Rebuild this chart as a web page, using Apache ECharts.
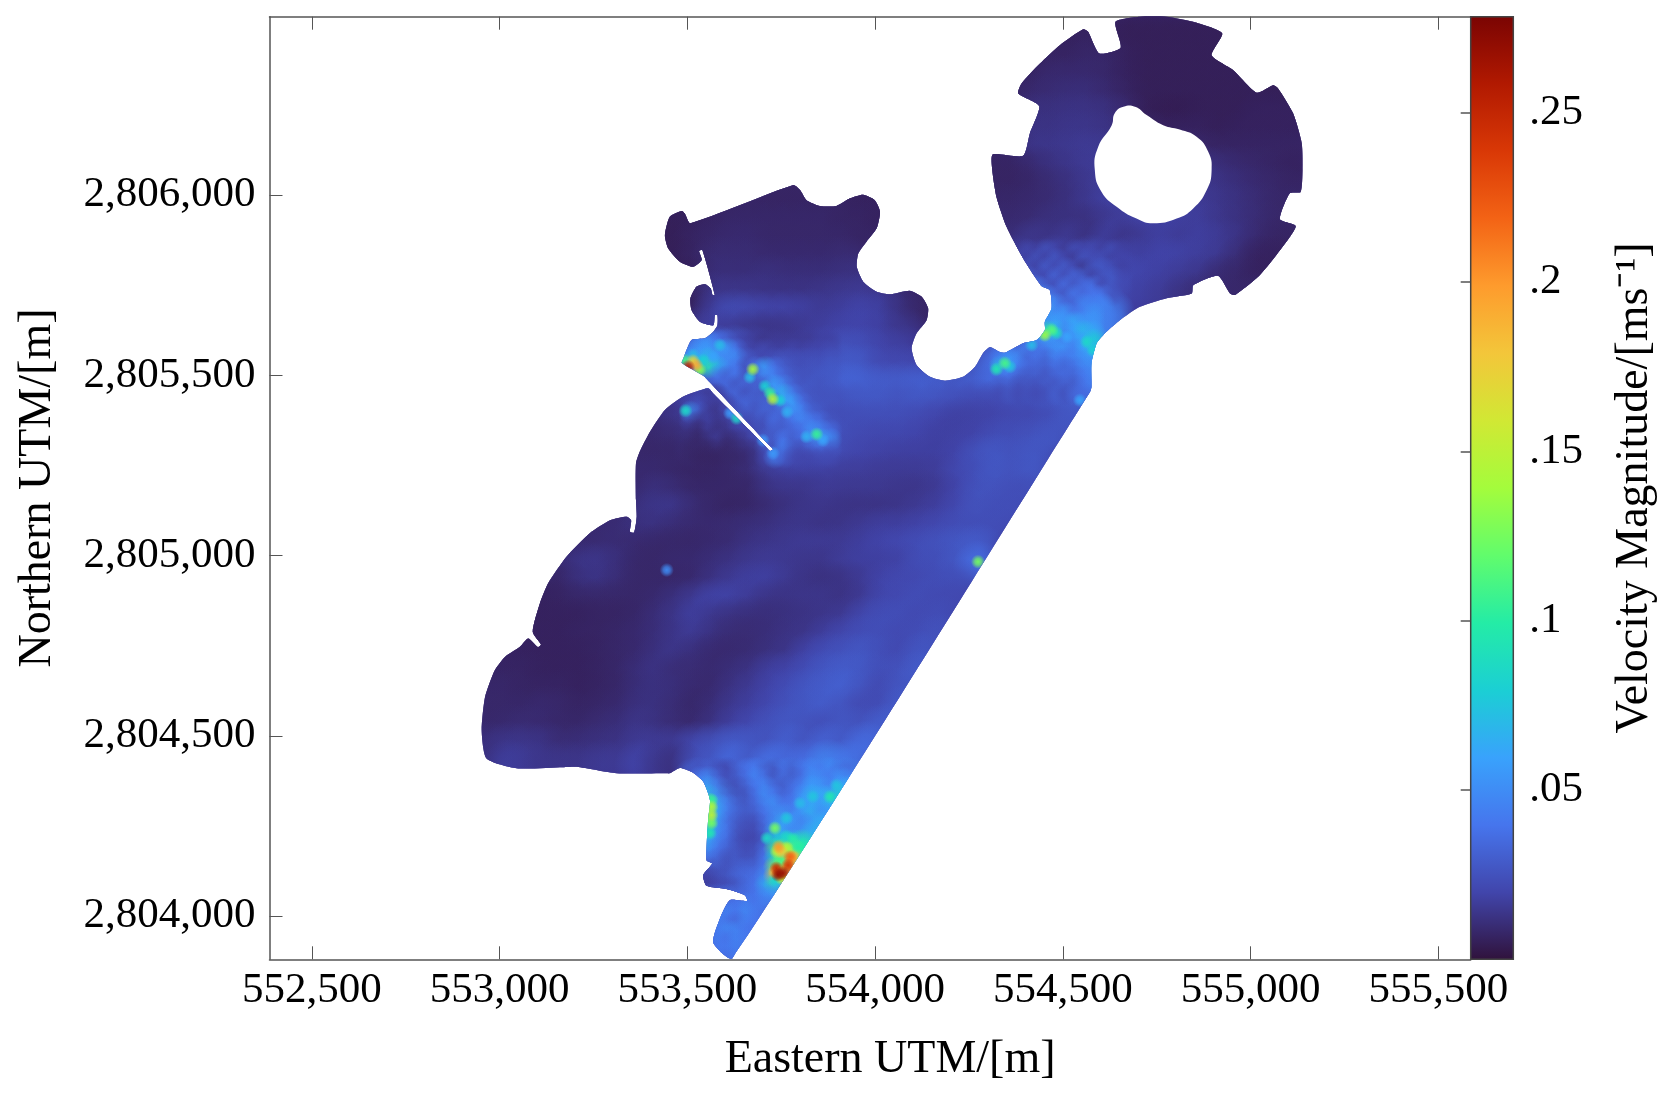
<!DOCTYPE html>
<html>
<head>
<meta charset="utf-8">
<style>
  html, body { margin: 0; background: #fff; }
  #chart { width: 1671px; height: 1096px; }
</style>
<script src="https://cdn.jsdelivr.net/npm/echarts@6/dist/echarts.min.js"></script>
</head>
<body>
<div id="chart"></div>
<script>
// axis ranges and tick labels (m, m/s)
const eastRange = [552387, 555586];
const northRange = [2803880, 2806495];
const speedRange = [0, 0.2784];
const eastTicks = [552500, 553000, 553500, 554000, 554500, 555000, 555500];
const northTicks = [2804000, 2804500, 2805000, 2805500, 2806000];
const speedTicks = [0.05, 0.1, 0.15, 0.2, 0.25];

const turboColors = ['#30123b', '#4145ab', '#4675ed', '#39a2fc', '#1bcfd4', '#24eca6', '#61fc6c', '#a4fc3c',
  '#d1e834', '#f3c63a', '#fe9b2d', '#f36315', '#d93806', '#b11901', '#7a0403'];

// boundary of the wet domain, clockwise from the north west corner of the upper basin
const outlineEast = [553508, 553782, 553800, 553817, 553853, 553897, 553933, 553968, 553999, 554013, 554004, 553977,
  553955, 553951, 553968, 554004, 554039, 554092, 554124, 554141, 554137, 554110, 554097, 554110, 554146, 554186,
  554234, 554266, 554288, 554306, 554332, 554346, 554394, 554430, 554452, 554452, 554470, 554465, 554443, 554394,
  554350, 554323, 554312, 554313, 554394, 554412, 554437, 554381, 554390, 554439, 554492, 554554, 554567, 554597,
  554654, 554640, 554705, 554776, 554847, 554924, 554896, 554953, 555016, 555060, 555073, 555113, 555136, 555138,
  555133, 555104, 555078, 555120, 555078, 555024, 554958, 554945, 554913, 554847, 554843, 554776, 554705, 554652,
  554616, 554590, 554576, 554576, 554572, 553620, 553569, 553587, 553613, 553659, 553653, 553604, 553551, 553542,
  553566, 553551, 553555, 553560, 553542, 553511, 553480, 553453, 553445, 553311, 553205, 553169, 553045, 552965,
  552952, 552961, 552987, 553014, 553054, 553076, 553102, 553110, 553088, 553107, 553129, 553178, 553240, 553294,
  553338, 553350, 553347, 553358, 553365, 553363, 553363, 553373, 553400, 553440, 553489, 553555, 553570, 553705, 553720, 553728,
  553713, 553558, 553543, 553485, 553489, 553511, 553547, 553569, 553580, 553580, 553573, 553569, 553533, 553511, 553508, 553524,
  553547, 553562, 553567, 553573, 553540, 553531, 553538, 553515, 553480, 553449, 553440, 553453, 553485, 553493];
const outlineNorth = [2805922, 2806028, 2806014, 2805986, 2805970, 2805970, 2805991, 2806001, 2805986, 2805954, 2805908, 2805871,
  2805838, 2805801, 2805760, 2805732, 2805725, 2805735, 2805718, 2805686, 2805653, 2805616, 2805575, 2805529, 2805496, 2805485,
  2805496, 2805524, 2805563, 2805579, 2805565, 2805563, 2805589, 2805598, 2805626, 2805649, 2805686, 2805737, 2805748, 2805825,
  2805912, 2805995, 2806069, 2806113, 2806109, 2806171, 2806247, 2806282, 2806310, 2806365, 2806416, 2806460, 2806453, 2806393,
  2806409, 2806481, 2806495, 2806495, 2806481, 2806449, 2806388, 2806347, 2806284, 2806305, 2806296, 2806227, 2806144, 2806069,
  2806009, 2806005, 2805933, 2805914, 2805847, 2805778, 2805723, 2805727, 2805776, 2805750, 2805727, 2805714, 2805690, 2805653,
  2805621, 2805589, 2805533, 2805468, 2805454, 2803883, 2803926, 2803994, 2804044, 2804042, 2804058, 2804075, 2804084, 2804114,
  2804146, 2804155, 2804266, 2804322, 2804373, 2804400, 2804411, 2804396, 2804396, 2804396, 2804414, 2804413, 2804410, 2804437,
  2804516, 2804608, 2804682, 2804719, 2804747, 2804770, 2804746, 2804753, 2804789, 2804867, 2804923, 2804997, 2805062, 2805098,
  2805108, 2805098, 2805066, 2805064, 2805108, 2805154, 2805256, 2805288, 2805343, 2805404, 2805441, 2805464, 2805448, 2805306, 2805290, 2805295,
  2805311, 2805482, 2805498, 2805534, 2805547, 2805598, 2805603, 2805621, 2805639, 2805667, 2805667, 2805639, 2805649, 2805681, 2805714, 2805746,
  2805753, 2805741, 2805723, 2805723, 2805847, 2805845, 2805820, 2805801, 2805815, 2805852, 2805889, 2805940, 2805956, 2805949];

// the island inside the ring
const holeEast = [554630, 554638, 554661, 554692, 554723, 554767, 554811, 554856, 554887, 554896, 554883, 554847, 554803,
  554740, 554696, 554643, 554603, 554585, 554594];
const holeNorth = [2806194, 2806227, 2806245, 2806245, 2806222, 2806194, 2806182, 2806162, 2806120, 2806069, 2806014, 2805963,
  2805935, 2805922, 2805935, 2805968, 2806009, 2806069, 2806134];

// speed on a 50 m grid, in mm/s, 0 = dry
const fieldEastOrigin = 552975;
const fieldNorthOrigin = 2806470;
const fieldStep = 50;
const fieldRowStarts = [26, 26, 26, 26, 26, 26, 26, 26, 26, 9, 9, 9, 9, 9, 9, 9, 9, 11, 11, 11, 12, 10, 9, 8, 8, 8, 8, 7, 5, 4, 4, 3,
  2, 2, 2, 1, 0, 0, 0, 0, 0, 0, 11, 12, 12, 12, 12, 11, 12, 12, 12, 11];
const fieldRows = [
  [5, 5, 5, 5, 5, 5, 5, 6, 5, 5, 5, 5, 5, 5, 5, 5, 5, 5],
  [5, 5, 5, 5, 6, 6, 7, 6, 5, 5, 5, 5, 5, 5, 5, 5, 5, 5],
  [6, 6, 6, 6, 7, 7, 8, 8, 6, 5, 5, 5, 5, 5, 5, 5, 5, 5],
  [6, 6, 6, 7, 9, 9, 9, 8, 6, 5, 5, 5, 5, 5, 5, 5, 5, 5],
  [6, 6, 7, 9, 10, 11, 11, 9, 7, 5, 5, 5, 5, 5, 5, 5, 5, 5],
  [6, 7, 9, 12, 12, 13, 13, 12, 9, 5, 4, 4, 5, 5, 5, 6, 6, 6],
  [6, 7, 10, 13, 13, 14, 14, 13, 11, 8, 6, 6, 6, 5, 6, 6, 6, 6],
  [7, 7, 9, 14, 14, 15, 16, 15, 14, 12, 10, 9, 8, 7, 7, 7, 7, 7],
  [7, 7, 7, 9, 12, 14, 16, 16, 14, 14, 14, 14, 13, 11, 9, 8, 7, 6],
  [0, 0, 0, 0, 0, 0, 7, 7, 7, 7, 7, 6, 6, 0, 0, 0, 0, 7, 7, 7, 8, 10, 12, 15, 17, 16, 16, 16, 15, 15, 13, 11, 9, 8, 7],
  [0, 5, 5, 6, 7, 7, 7, 7, 7, 7, 7, 6, 6, 0, 0, 0, 0, 8, 8, 8, 9, 10, 12, 15, 18, 18, 18, 18, 16, 16, 14, 12, 10, 8, 8],
  [5, 5, 6, 7, 8, 8, 8, 8, 8, 8, 7, 7, 6, 0, 0, 0, 0, 9, 9, 9, 10, 12, 12, 12, 15, 17, 20, 18, 18, 17, 14, 12, 10, 8, 8],
  [5, 5, 7, 8, 9, 9, 8, 8, 8, 8, 8, 7, 0, 0, 0, 0, 0, 10, 10, 11, 15, 13, 16, 12, 18, 13, 16, 18, 16, 18, 16, 13, 9, 7, 7],
  [5, 5, 7, 10, 10, 10, 9, 9, 9, 9, 10, 0, 0, 0, 0, 0, 0, 0, 12, 18, 14, 22, 17, 24, 16, 20, 18, 20, 19, 17, 15, 10, 6, 6, 6],
  [0, 5, 6, 11, 11, 11, 12, 11, 11, 11, 12, 12, 0, 0, 0, 0, 0, 0, 0, 14, 20, 30, 22, 28, 20, 22, 20, 18, 16, 14, 9, 8, 6, 6, 6],
  [0, 5, 7, 14, 14, 14, 13, 13, 13, 14, 15, 16, 14, 10, 6, 6, 0, 0, 0, 16, 30, 38, 26, 34, 30, 20, 18, 16, 12, 10, 9, 8, 8, 8, 8],
  [0, 5, 7, 18, 24, 22, 20, 20, 18, 16, 18, 20, 18, 12, 8, 7, 0, 0, 0, 0, 40, 50, 45, 52, 45],
  [16, 18, 16, 14, 13, 14, 16, 18, 20, 20, 18, 14, 0, 0, 0, 0, 0, 0, 40, 55, 60, 50, 45],
  [40, 40, 35, 22, 16, 14, 18, 22, 26, 24, 20, 18, 0, 0, 0, 0, 35, 30, 45, 70, 55, 70],
  [50, 42, 35, 22, 30, 22, 20, 22, 30, 28, 22, 22, 22, 0, 0, 28, 40, 50, 40, 45, 55, 60],
  [28, 26, 30, 45, 30, 24, 26, 34, 32, 30, 30, 32, 32, 30, 32, 36, 34, 34, 38, 42, 48],
  [16, 20, 18, 30, 30, 45, 40, 28, 24, 26, 28, 28, 26, 28, 26, 24, 22, 22, 24, 24, 28, 30, 30],
  [10, 14, 16, 16, 18, 30, 32, 40, 32, 24, 24, 24, 24, 24, 22, 20, 18, 19, 20, 22, 22, 24, 28],
  [8, 9, 10, 12, 12, 14, 18, 26, 28, 38, 28, 24, 22, 21, 21, 20, 18, 19, 20, 24, 24, 26, 28],
  [8, 8, 8, 10, 10, 10, 14, 28, 24, 26, 24, 22, 20, 19, 18, 18, 18, 20, 26, 28, 26, 28],
  [9, 9, 8, 7, 7, 8, 10, 16, 18, 18, 18, 17, 17, 16, 16, 16, 17, 22, 24, 28, 26, 28],
  [9, 12, 10, 8, 8, 8, 8, 13, 14, 14, 16, 15, 15, 15, 14, 14, 16, 20, 26, 26, 24, 24],
  [9, 12, 14, 14, 10, 8, 7, 8, 10, 12, 14, 14, 13, 13, 13, 14, 16, 18, 22, 26, 24, 24],
  [8, 9, 10, 12, 12, 10, 9, 9, 10, 11, 12, 14, 14, 13, 14, 16, 18, 18, 20, 22, 24, 24, 24],
  [8, 9, 10, 10, 9, 8, 8, 8, 9, 10, 13, 14, 15, 16, 16, 16, 18, 20, 22, 24, 26, 28, 30],
  [10, 14, 14, 11, 8, 8, 9, 9, 11, 13, 15, 16, 15, 14, 14, 17, 18, 18, 19, 24, 24, 28, 38],
  [7, 8, 12, 13, 10, 8, 8, 8, 9, 13, 16, 18, 18, 15, 13, 12, 13, 16, 20, 22, 22, 24, 24],
  [6, 6, 7, 8, 8, 8, 8, 9, 12, 16, 20, 19, 16, 13, 13, 14, 14, 13, 16, 21, 22, 24, 22, 22],
  [6, 6, 6, 6, 7, 7, 8, 11, 14, 18, 14, 12, 11, 11, 12, 13, 14, 16, 22, 24, 24, 22, 24],
  [6, 6, 6, 7, 7, 8, 9, 11, 14, 16, 12, 10, 10, 11, 13, 14, 18, 22, 24, 24, 22, 24, 26],
  [6, 6, 6, 6, 6, 7, 8, 9, 12, 14, 11, 9, 9, 10, 12, 14, 20, 24, 26, 28, 24, 22, 28],
  [6, 7, 7, 6, 6, 6, 7, 8, 11, 13, 10, 10, 9, 11, 13, 18, 20, 24, 28, 30, 28, 24, 26, 30],
  [8, 8, 7, 7, 7, 6, 7, 8, 11, 12, 11, 9, 9, 13, 16, 20, 24, 28, 30, 32, 26, 22, 28],
  [8, 8, 8, 9, 8, 7, 8, 9, 12, 12, 10, 8, 11, 15, 18, 22, 26, 28, 30, 26, 22, 24, 30],
  [8, 9, 10, 9, 8, 8, 10, 11, 14, 12, 10, 9, 13, 18, 22, 26, 28, 26, 24, 28, 26, 32],
  [12, 14, 14, 13, 10, 11, 12, 13, 16, 16, 16, 22, 26, 30, 28, 26, 32, 26, 34, 28, 38],
  [12, 18, 16, 14, 14, 14, 16, 16, 20, 14, 12, 24, 28, 36, 28, 40, 34, 38, 48, 42],
  [40, 28, 34, 42, 50, 52, 48, 62, 60],
  [95, 55, 45, 34, 35, 48, 60, 55],
  [85, 48, 32, 30, 30, 38, 55],
  [55, 42, 28, 24, 55, 70, 70],
  [35, 30, 28, 26, 60, 100],
  [18, 14, 22, 28, 32, 60],
  [14, 16, 22, 40],
  [30, 36, 34],
  [38, 40, 42],
  [35, 40, 38]
];

// finer 25 m readings where the flow is speckled, mm/s
const detailStep = 25;

const southRows = [
  [0, 24, 30, 24, 20, 30, 38, 42, 30, 26, 36, 30, 38, 46, 40, 46, 36, 34],
  [22, 42, 48, 32, 22, 28, 36, 46, 36, 24, 34, 28, 36, 50, 46, 40, 50, 44],
  [26, 50, 56, 40, 26, 22, 30, 40, 46, 34, 28, 36, 44, 58, 52, 44, 58, 64],
  [0, 60, 66, 46, 32, 24, 24, 36, 50, 42, 32, 38, 54, 66, 62, 64, 84],
  [0, 84, 120, 56, 42, 30, 26, 34, 46, 52, 40, 42, 60, 62, 56, 68, 74],
  [0, 0, 110, 60, 40, 32, 28, 30, 40, 48, 52, 46, 58, 66, 52, 56],
  [0, 0, 100, 54, 36, 28, 24, 24, 36, 50, 64, 56, 44, 54, 64],
  [0, 0, 80, 50, 38, 26, 22, 22, 34, 64, 58, 46, 50, 64],
  [0, 0, 64, 46, 36, 24, 20, 20, 28, 78, 84, 74, 95],
  [0, 0, 56, 40, 32, 26, 22, 24, 36, 110, 140, 130, 100],
  [0, 40, 42, 34, 26, 28, 24, 26, 40, 84, 110, 170],
  [0, 26, 28, 30, 26, 30, 32, 32, 42, 130, 160, 200],
  [16, 20, 20, 24, 28, 34, 36, 38, 50, 170, 220],
  [18, 18, 18, 22, 24, 28, 36, 40, 64, 90],
  [0, 26, 30, 32, 36, 34, 36, 40, 50, 54],
  [0, 0, 0, 36, 36, 40, 44, 40, 44],
  [0, 0, 34, 40, 46, 40, 48, 42],
  [0, 0, 40, 48, 38, 34, 44, 40],
  [0, 32, 38, 40, 48, 46, 40, 38],
  [0, 32, 34, 44, 38, 46, 42],
  [0, 0, 36, 40, 42, 44],
  [0, 0, 0, 0, 38, 42]
];
const southOrigin = [553507, 2804410];

const breakwaterRows = [
  [30, 45, 50, 40, 30, 22, 18, 16, 14, 16, 16, 16, 16, 16, 18, 18],
  [45, 55, 58, 50, 60, 40, 22, 18, 22, 18, 18, 20, 18, 20, 20, 22],
  [55, 60, 70, 55, 48, 50, 30, 24, 20, 24, 26, 24, 24, 24, 24, 26],
  [0, 0, 100, 70, 50, 40, 24, 40, 60, 40, 30, 26, 24, 26, 26, 28],
  [0, 0, 0, 40, 32, 42, 26, 30, 50, 44, 34, 28, 26, 26, 28, 28],
  [0, 0, 0, 0, 36, 26, 34, 30, 30, 60, 48, 32, 26, 28, 26, 28],
  [0, 0, 16, 18, 0, 34, 24, 30, 26, 55, 66, 44, 30, 26, 26, 26],
  [20, 24, 18, 16, 20, 0, 34, 28, 30, 30, 60, 60, 38, 28, 26, 26],
  [60, 30, 16, 14, 22, 26, 0, 26, 32, 30, 34, 56, 46, 32, 28, 24],
  [22, 14, 18, 14, 16, 26, 22, 0, 24, 36, 30, 40, 48, 42, 36, 26],
  [12, 10, 16, 12, 14, 18, 20, 24, 0, 30, 30, 34, 38, 52, 46, 36],
  [10, 8, 12, 16, 10, 12, 16, 22, 30, 0, 40, 30, 36, 50, 62, 50],
  [8, 8, 8, 10, 8, 10, 12, 14, 28, 0, 44, 28, 24, 32, 36, 30],
  [8, 7, 7, 7, 8, 8, 9, 12, 20, 45, 32, 22, 20, 20, 22, 22]
];
const breakwaterOrigin = [553507, 2805598];

const stemRows = [
  [0, 0, 16, 22, 18, 26, 20, 16, 24, 20, 22, 18, 24, 18],
  [0, 0, 22, 18, 26, 18, 28, 20, 16, 26, 22, 24, 18, 20],
  [0, 0, 0, 26, 18, 30, 20, 30, 22, 14, 26, 28, 24, 18],
  [0, 0, 0, 32, 24, 20, 34, 22, 34, 28, 18, 26, 28, 22],
  [0, 0, 0, 38, 42, 28, 22, 38, 26, 36, 38, 20, 28, 22],
  [0, 0, 0, 0, 54, 46, 34, 26, 42, 34, 40, 40, 26],
  [0, 0, 0, 0, 58, 54, 48, 34, 32, 46, 44, 46],
  [0, 0, 0, 0, 50, 64, 46, 54, 38, 44, 52],
  [0, 0, 0, 0, 62, 48, 60, 52, 62, 54, 54],
  [0, 0, 0, 0, 0, 100, 70, 46, 60, 70, 62],
  [0, 0, 0, 34, 46, 60, 50, 42, 54, 60, 80],
  [0, 40, 32, 44, 36, 40, 50, 52, 42, 60, 70],
  [44, 54, 48, 32, 38, 32, 44, 38, 44, 50, 55],
  [70, 60, 42, 34, 32, 30, 36, 32, 36, 46, 48],
  [36, 40, 32, 28, 30, 26, 32, 34, 32, 40, 46],
  [28, 30, 24, 26, 24, 28, 26, 30, 28, 38, 44],
  [22, 26, 22, 24, 22, 24, 30, 24, 34, 36]
];
const stemOrigin = [554332, 2805848];

// local peaks, mm/s
const peakEast = [553502, 553524, 553515, 553533, 553493, 553515, 553541, 553586, 553568, 553674, 553666, 553706, 553720, 553727,
  553746, 553765, 553844, 553817, 553861, 553495, 553631, 553613, 553701, 553728, 554452, 554470, 554483, 554563, 554580, 554510,
  554345, 554323, 554359, 554417, 554274, 554545, 553445, 553564, 553564, 553564, 553564, 553560, 553733, 553711, 553781, 553764,
  553742, 553764, 553751, 553794, 553737, 553773, 553746, 553768, 553781, 553737, 553754, 553741, 553733, 553751, 553733, 553737,
  553879, 553834, 553897, 553764, 553800];
const peakNorth = [2805524, 2805528, 2805540, 2805515, 2805542, 2805556, 2805542, 2805584, 2805551, 2805517, 2805495, 2805470,
  2805451, 2805434, 2805431, 2805398, 2805337, 2805330, 2805320, 2805402, 2805381, 2805395, 2805320, 2805284, 2805612, 2805626,
  2805617, 2805593, 2805570, 2805607, 2805534, 2805517, 2805524, 2805584, 2804983, 2805431, 2804960, 2804322, 2804303, 2804280,
  2804258, 2804230, 2804244, 2804216, 2804214, 2804220, 2804192, 2804189, 2804178, 2804192, 2804178, 2804164, 2804155, 2804141,
  2804164, 2804133, 2804119, 2804114, 2804123, 2804105, 2804100, 2804092, 2804331, 2804331, 2804363, 2804272, 2804313];
const peakSpeed = [250, 190, 170, 130, 110, 70, 80, 70, 60, 140, 70, 80, 105, 145, 80, 65, 105, 65, 60, 85, 85, 55, 55, 55, 135, 115,
  90, 85, 80, 60, 110, 95, 75, 70, 125, 60, 50, 105, 145, 150, 125, 95, 125, 85, 100, 85, 200, 145, 180, 100, 150, 220, 110, 240, 190,
  250, 265, 270, 190, 150, 85, 65, 95, 75, 75, 75, 70];

const fieldData = [];
fieldRows.forEach((row, j) => {
  row.forEach((speed, i) => {
    if (speed > 0) {
      fieldData.push([fieldEastOrigin + (fieldRowStarts[j] + i) * fieldStep, fieldNorthOrigin - j * fieldStep, speed]);
    }
  });
});

const detailData = [];
[[southRows, southOrigin], [breakwaterRows, breakwaterOrigin], [stemRows, stemOrigin]].forEach(([rows, origin]) => {
  rows.forEach((row, j) => {
    row.forEach((speed, i) => {
      if (speed > 0) {
        detailData.push([origin[0] + i * detailStep, origin[1] - j * detailStep, speed]);
      }
    });
  });
});

const peakData = peakEast.map((e, i) => [e, peakNorth[i], peakSpeed[i]]).sort((a, b) => a[2] - b[2]);

const font = 'Liberation Serif';
const axisGray = '#555';
const outlineSmooth = 0.2;

let clipPoints = null;
function outlinePixels(api) {
  if (!clipPoints) {
    clipPoints = outlineEast.map((e, i) => api.coord([e, outlineNorth[i]]));
  }
  return clipPoints;
}

// soft round blob, clipped to the domain so nothing bleeds on the land
const blobRenderer = (reach, coreAlpha, midAlpha) => (params, api) => {
  const c = api.coord([api.value(0), api.value(1)]);
  const r = api.size([reach, reach])[0];
  const color = api.visual('color');
  return {
    type: 'circle',
    shape: { cx: c[0], cy: c[1], r: r },
    style: {
      fill: {
        type: 'radial', x: 0.5, y: 0.5, r: 0.5,
        colorStops: [
          { offset: 0, color: echarts.color.modifyAlpha(color, coreAlpha) },
          { offset: 0.45, color: echarts.color.modifyAlpha(color, midAlpha) },
          { offset: 1, color: echarts.color.modifyAlpha(color, 0) }
        ]
      }
    },
    clipPath: { type: 'polygon', shape: { points: outlinePixels(api), smooth: outlineSmooth } }
  };
};

const chart = echarts.init(document.getElementById('chart'));
chart.setOption({
  animation: false,
  backgroundColor: '#fff',
  textStyle: { fontFamily: font },
  visualMap: {
    show: false,
    type: 'continuous',
    seriesIndex: [1, 2, 3],
    dimension: 2,
    min: 0,
    max: 278,
    inRange: { color: turboColors }
  },
  grid: [
    { left: 269.5, top: 16.7, width: 1201.2, height: 942.6, outerBoundsMode: 'none' },
    { left: 1470.7, top: 16.7, width: 42.6, height: 942.6, outerBoundsMode: 'none' }
  ],
  xAxis: [
    {
      type: 'value', gridIndex: 0, min: eastRange[0], max: eastRange[1],
      name: 'Eastern UTM/[m]', nameLocation: 'middle', nameGap: 78,
      nameTextStyle: { fontFamily: font, fontSize: 46, color: '#000', padding: [0, 0, 0, 40] },
      splitLine: { show: false },
      axisLine: { onZero: false, lineStyle: { color: axisGray, width: 1.5 } },
      axisTick: { inside: true, length: 13, customValues: eastTicks, lineStyle: { color: axisGray, width: 1 } },
      axisLabel: {
        customValues: eastTicks, margin: 10, fontFamily: font, fontSize: 43, color: '#000',
        formatter: v => v.toLocaleString('en-US')
      }
    },
    {
      type: 'value', gridIndex: 0, position: 'top', min: eastRange[0], max: eastRange[1],
      splitLine: { show: false },
      axisLine: { onZero: false, lineStyle: { color: axisGray, width: 1.5 } },
      axisTick: { inside: true, length: 13, customValues: eastTicks, lineStyle: { color: axisGray, width: 1 } },
      axisLabel: { show: false }
    },
    { type: 'value', gridIndex: 1, min: 0, max: 1, show: false }
  ],
  yAxis: [
    {
      type: 'value', gridIndex: 0, min: northRange[0], max: northRange[1],
      name: 'Northern UTM/[m]', nameLocation: 'middle', nameGap: 209, nameRotate: 90,
      nameTextStyle: { fontFamily: font, fontSize: 46, color: '#000' },
      splitLine: { show: false },
      axisLine: { onZero: false, lineStyle: { color: axisGray, width: 1.5 } },
      axisTick: { inside: true, length: 13, customValues: northTicks, lineStyle: { color: axisGray, width: 1 } },
      axisLabel: {
        customValues: northTicks, margin: 14, fontFamily: font, fontSize: 43, color: '#000',
        formatter: v => v.toLocaleString('en-US')
      }
    },
    {
      type: 'value', gridIndex: 1, position: 'right', min: speedRange[0], max: speedRange[1],
      name: 'Velocity Magnitude/[ms⁻¹]', nameLocation: 'middle', nameGap: 99, nameRotate: 90,
      nameTextStyle: { fontFamily: font, fontSize: 46, color: '#000' },
      splitLine: { show: false },
      axisLine: { show: false },
      axisTick: { inside: true, length: 10, customValues: speedTicks, lineStyle: { color: axisGray, width: 1.5 } },
      axisLabel: {
        customValues: speedTicks, margin: 16, fontFamily: font, fontSize: 43, color: '#000',
        formatter: v => String(v).replace(/^0/, '')
      }
    }
  ],
  series: [
    {
      // domain floor
      type: 'custom', xAxisIndex: 0, yAxisIndex: 0, data: [[0]], silent: true, z: 2,
      renderItem: (params, api) => ({
        type: 'polygon',
        shape: { points: outlinePixels(api), smooth: outlineSmooth },
        style: { fill: '#392a86' }
      })
    },
    {
      type: 'custom', xAxisIndex: 0, yAxisIndex: 0, data: fieldData, silent: true, z: 3,
      progressive: 0, renderItem: blobRenderer(70, 0.85, 0.6)
    },
    {
      type: 'custom', xAxisIndex: 0, yAxisIndex: 0, data: detailData, silent: true, z: 4,
      progressive: 0, renderItem: blobRenderer(32, 0.8, 0.5)
    },
    {
      type: 'custom', xAxisIndex: 0, yAxisIndex: 0, data: peakData, silent: true, z: 5,
      progressive: 0, renderItem: blobRenderer(19, 0.95, 0.7)
    },
    {
      type: 'custom', xAxisIndex: 0, yAxisIndex: 0, data: [[0]], silent: true, z: 6,
      renderItem: (params, api) => ({
        type: 'polygon',
        shape: { points: holeEast.map((e, i) => api.coord([e, holeNorth[i]])), smooth: 0.5 },
        style: { fill: '#fff' }
      })
    },
    {
      // colour bar
      type: 'custom', xAxisIndex: 2, yAxisIndex: 1, data: [[0, speedRange[0], 1, speedRange[1]]], silent: true, z: 2,
      renderItem: (params, api) => {
        const a = api.coord([api.value(0), api.value(1)]);
        const b = api.coord([api.value(2), api.value(3)]);
        return {
          type: 'rect',
          shape: { x: a[0], y: b[1], width: b[0] - a[0], height: a[1] - b[1] },
          style: {
            stroke: '#444', lineWidth: 1.5,
            fill: {
              type: 'linear', x: 0, y: 1, x2: 0, y2: 0,
              colorStops: turboColors.map((c, i) => ({ offset: i / (turboColors.length - 1), color: c }))
            }
          }
        };
      }
    }
  ]
});
</script>
</body>
</html>
